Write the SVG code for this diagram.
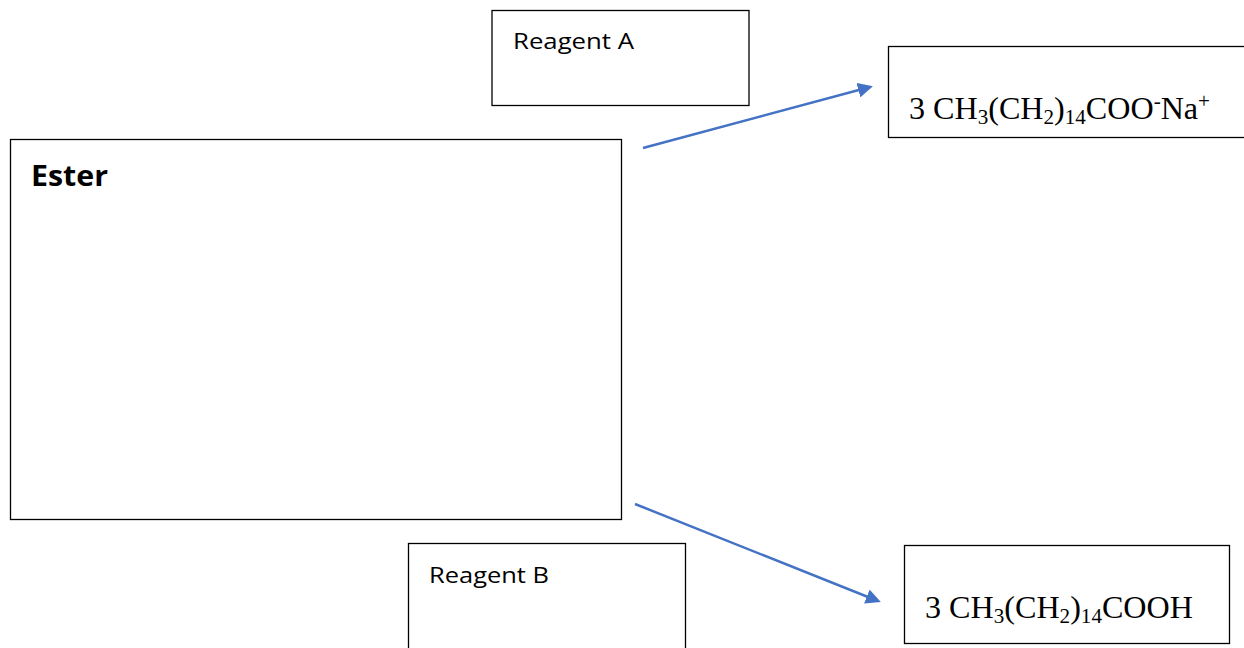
<svg xmlns="http://www.w3.org/2000/svg" width="1244" height="648" viewBox="0 0 1244 648">
<style>
.box{fill:#fff;stroke:#000;stroke-width:1.3}
.lbl{font-family:"Open Sans","Liberation Sans",sans-serif;font-size:21px;fill:#000}
.ttl{font-family:"Open Sans","Liberation Sans",sans-serif;font-size:29px;font-weight:bold;fill:#000}
.chem{font-family:"Liberation Serif","Times New Roman",serif;font-size:32px;fill:#000}
.sub{font-size:21px}
.arr{stroke:#4472C4;stroke-width:2.5;fill:none;marker-end:url(#ah)}
</style>
<defs>
<marker id="ah" viewBox="0 0 10 10" refX="8" refY="5" markerWidth="6" markerHeight="6" orient="auto" markerUnits="strokeWidth">
<path d="M0,0 L10,5 L0,10 z" fill="#4472C4"/>
</marker>
</defs>
<rect width="1244" height="648" fill="#fff"/>
<g id="reagentA">
<rect class="box" x="492" y="10.5" width="257" height="95"/>
<text class="lbl" x="513" y="49" textLength="121" lengthAdjust="spacingAndGlyphs">Reagent A</text>
</g>
<g id="ester">
<rect class="box" x="10.5" y="139.5" width="611" height="380"/>
<text class="ttl" x="31" y="186" textLength="77" lengthAdjust="spacingAndGlyphs">Ester</text>
</g>
<g id="productA">
<rect class="box" x="888.5" y="46.5" width="360" height="91"/>
<text class="chem" x="909" y="119" textLength="301" lengthAdjust="spacingAndGlyphs">3 CH<tspan class="sub" dy="5">3</tspan><tspan dy="-5">(CH</tspan><tspan class="sub" dy="5">2</tspan><tspan dy="-5">)</tspan><tspan class="sub" dy="5">14</tspan><tspan dy="-5">COO</tspan><tspan class="sub" dy="-11">-</tspan><tspan dy="11">Na</tspan><tspan class="sub" dy="-11">+</tspan></text>
</g>
<g id="reagentB">
<rect class="box" x="408.5" y="543.5" width="277" height="110"/>
<text class="lbl" x="429" y="583" textLength="120" lengthAdjust="spacingAndGlyphs">Reagent B</text>
</g>
<g id="productB">
<rect class="box" x="904.5" y="545.5" width="325" height="98"/>
<text class="chem" x="925" y="618" textLength="268" lengthAdjust="spacingAndGlyphs">3 CH<tspan class="sub" dy="5">3</tspan><tspan dy="-5">(CH</tspan><tspan class="sub" dy="5">2</tspan><tspan dy="-5">)</tspan><tspan class="sub" dy="5">14</tspan><tspan dy="-5">COOH</tspan></text>
</g>
<g id="connectors">
<line class="arr" x1="643" y1="148" x2="870" y2="87"/>
<line class="arr" x1="635" y1="504" x2="878" y2="601"/>
</g>
</svg>
